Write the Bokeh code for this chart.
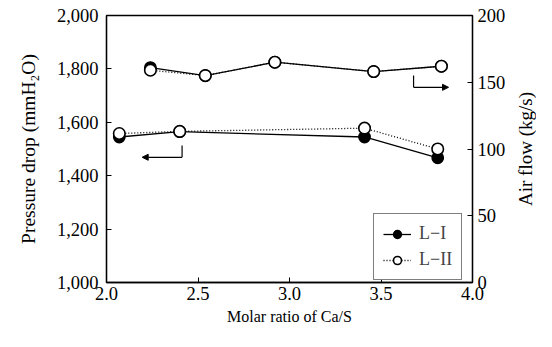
from bokeh.plotting import figure
from bokeh.layouts import row
from bokeh.models import Range1d, LinearAxis, Legend, LegendItem, Arrow, NormalHead, FixedTicker, CustomJSTickFormatter
from bokeh.embed import file_html
from bokeh.resources import INLINE

# Data
x_press = [2.07, 2.40, 3.41, 3.81]
press_L1 = [1545, 1565, 1545, 1467]
press_L2 = [1558, 1566, 1578, 1500]
x_air = [2.24, 2.54, 2.92, 3.46, 3.83]
air_L1 = [161, 155, 165, 158, 162]
air_L2 = [159, 155, 165, 158, 162]
x_ticks = [2.0, 2.5, 3.0, 3.5, 4.0]
left_ticks = [1000, 1200, 1400, 1600, 1800, 2000]
right_ticks = [0, 50, 100, 150, 200]
labels = ["L\u2212I", "L\u2212II"]
right_title = "Air flow (kg/s)"

# arrow annotations (data coords)
arr_left = dict(xv=2.413, y0=1513, y1=1469, xend=2.195)
arr_right = dict(xv=3.678, y0=1775, y1=1731, xend=3.869)

FONT = "Liberation Serif"

p = figure(width=508, height=331, output_backend="svg", toolbar_location=None,
           x_range=Range1d(2.0, 4.0), y_range=Range1d(1000, 2000),
           min_border_left=106, min_border_right=35, min_border_top=15, min_border_bottom=49)
p.extra_y_ranges = {"air": Range1d(0, 200)}
p.grid.visible = False
p.outline_line_color = "black"
p.outline_line_width = 1.3

ax_r = LinearAxis(y_range_name="air")
p.add_layout(ax_r, "right")

for ax in [p.xaxis[0], p.yaxis[0], ax_r]:
    ax.major_tick_in = 5
    ax.major_tick_out = 0
    ax.minor_tick_line_color = None
    ax.axis_line_color = "black"
    ax.axis_line_width = 1.3
    ax.major_tick_line_color = "black"
    ax.major_label_text_font = FONT
    ax.major_label_text_font_size = "18.5px"
    ax.major_label_text_color = "black"
    ax.axis_label_text_font = FONT
    ax.axis_label_text_font_style = "normal"
    ax.axis_label_text_color = "black"

p.xaxis[0].ticker = FixedTicker(ticks=x_ticks)
p.xaxis[0].formatter = CustomJSTickFormatter(code="return tick.toFixed(1);")
p.xaxis[0].axis_label = "Molar ratio of Ca/S"
p.xaxis[0].axis_label_text_font_size = "16px"
p.xaxis[0].major_label_standoff = 4
p.xaxis[0].axis_label_standoff = 5

p.yaxis[0].ticker = FixedTicker(ticks=left_ticks)
p.yaxis[0].formatter = CustomJSTickFormatter(code="return tick.toLocaleString('en-US');")
p.yaxis[0].axis_label = "Pressure drop (mmH\u2082O)"
p.yaxis[0].axis_label_text_font_size = "19.5px"
p.yaxis[0].major_label_standoff = 8
p.yaxis[0].axis_label_standoff = 15

ax_r.ticker = FixedTicker(ticks=right_ticks)
ax_r.major_label_standoff = 5

# lines
l1a = p.line(x_press, press_L1, line_color="black", line_width=1.3)
l2a = p.line(x_press, press_L2, line_color="black", line_width=1.3, line_dash="1 2")
l1b = p.line(x_air, air_L1, line_color="black", line_width=1.3, y_range_name="air")
l2b = p.line(x_air, air_L2, line_color="black", line_width=1.3, line_dash="1 2", y_range_name="air")
m1a = p.scatter(x_press, press_L1, size=11.5, fill_color="black", line_color="black", line_width=1.3)
m1b = p.scatter(x_air, air_L1, size=11.5, fill_color="black", line_color="black", line_width=1.3, y_range_name="air")
m2a = p.scatter(x_press, press_L2, size=11.5, fill_color="white", line_color="black", line_width=1.6)
m2b = p.scatter(x_air, air_L2, size=11.5, fill_color="white", line_color="black", line_width=1.6, y_range_name="air")

# arrows
for a in [arr_left, arr_right]:
    p.segment(x0=[a["xv"]], y0=[a["y0"]], x1=[a["xv"]], y1=[a["y1"]], line_color="black", line_width=1.2)
    p.add_layout(Arrow(x_start=a["xv"], y_start=a["y1"], x_end=a["xend"], y_end=a["y1"],
                       line_color="black", line_width=1.2,
                       end=NormalHead(size=6, fill_color="black", line_color="black")))

leg = Legend(items=[LegendItem(label=labels[0], renderers=[l1a, m1a]),
                    LegendItem(label=labels[1], renderers=[l2a, m2a])],
             location=(267, 2), label_text_font=FONT, label_text_font_size="18px",
             border_line_color="black", border_line_width=1.2, glyph_width=28,
             padding=9, spacing=5, margin=0, label_standoff=8, background_fill_alpha=1)
p.add_layout(leg, "center")

# narrow companion figure carrying the right-hand axis title (reads bottom-to-top)
p2 = figure(width=28, height=331, output_backend="svg", toolbar_location=None,
            x_range=Range1d(0, 1), y_range=Range1d(0, 1),
            x_axis_location=None, y_axis_location="left",
            min_border_left=27, min_border_right=0, min_border_top=15, min_border_bottom=49)
p2.grid.visible = False
p2.outline_line_color = None
p2.background_fill_alpha = 0
ya = p2.yaxis[0]
ya.ticker = FixedTicker(ticks=[])
ya.axis_line_color = None
ya.major_tick_line_color = None
ya.minor_tick_line_color = None
ya.axis_label = right_title
ya.axis_label_text_font = FONT
ya.axis_label_text_font_style = "normal"
ya.axis_label_text_font_size = "19px"
ya.axis_label_text_color = "black"
ya.axis_label_standoff = 0

layout = row(p, p2)
open("out.html", "w").write(file_html(layout, INLINE))
